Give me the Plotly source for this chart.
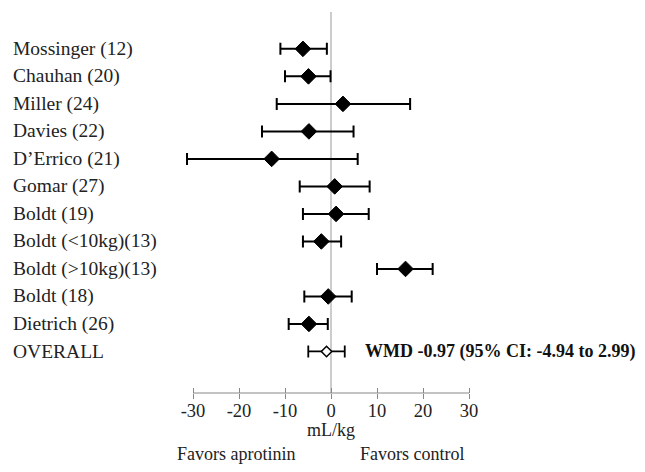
import plotly.graph_objects as go

studies = ["Mossinger (12)", "Chauhan (20)", "Miller (24)", "Davies (22)", "D’Errico (21)",
           "Gomar (27)", "Boldt (19)", "Boldt (<10kg)(13)", "Boldt (>10kg)(13)", "Boldt (18)",
           "Dietrich (26)"]
wmd = [-6.1, -4.9, 2.6, -4.8, -12.9, 0.8, 1.1, -2.1, 16.2, -0.6, -4.8]
ci_lo = [-11.0, -10.0, -11.8, -15.0, -31.3, -6.8, -6.1, -6.1, 10.0, -5.8, -9.2]
ci_hi = [-0.9, -0.1, 17.2, 4.9, 5.8, 8.4, 8.2, 2.2, 22.1, 4.5, -0.7]

overall_label = "OVERALL"
overall_wmd = -0.97
overall_lo = -4.94
overall_hi = 2.99

tick_vals = [-30, -20, -10, 0, 10, 20, 30]
tick_text = ["-30", "-20", "-10", "0", "10", "20", "30"]

FONT = "Liberation Serif, Times New Roman, serif"

rows = list(range(len(studies)))
overall_row = len(studies)

fig = go.Figure()

fig.add_trace(go.Scatter(
    x=wmd, y=rows, mode="markers",
    marker=dict(symbol="diamond", size=12, color="black", line=dict(color="black", width=1)),
    error_x=dict(type="data", symmetric=False,
                 array=[h - m for h, m in zip(ci_hi, wmd)],
                 arrayminus=[m - l for m, l in zip(wmd, ci_lo)],
                 color="black", thickness=2, width=6),
    showlegend=False, hoverinfo="skip",
))

fig.add_trace(go.Scatter(
    x=[overall_wmd], y=[overall_row], mode="markers",
    marker=dict(symbol="diamond", size=8, color="white", line=dict(color="black", width=1.5)),
    error_x=dict(type="data", symmetric=False,
                 array=[overall_hi - overall_wmd], arrayminus=[overall_wmd - overall_lo],
                 color="black", thickness=1.8, width=6),
    showlegend=False, hoverinfo="skip",
))

# invisible trace on an overlay axis that draws the upper half of the crossing ticks
fig.add_trace(go.Scatter(x=[0], y=[0], xaxis="x2", mode="markers",
                         marker=dict(opacity=0), showlegend=False, hoverinfo="skip"))

annotations = []
for i, s in enumerate(studies + [overall_label]):
    annotations.append(dict(text=s, x=-0.494, xref="paper", y=i, yref="y",
                            xanchor="left", yanchor="middle", showarrow=False,
                            font=dict(family=FONT, size=19.5, color="#222")))

annotations.append(dict(
    text="<b>WMD %.2f (95%% CI: %.2f to %.2f)</b>" % (overall_wmd, overall_lo, overall_hi),
    x=6.9, xref="x", y=overall_row, yref="y", xanchor="left", yanchor="middle",
    showarrow=False, font=dict(family=FONT, size=18, color="#111")))

annotations.append(dict(text="mL/kg", x=0, xref="x", y=-0.097, yref="paper",
                        xanchor="center", yanchor="middle", showarrow=False,
                        font=dict(family=FONT, size=18, color="#222")))
annotations.append(dict(text="Favors aprotinin", x=-20.5, xref="x", y=-0.16, yref="paper",
                        xanchor="center", yanchor="middle", showarrow=False,
                        font=dict(family=FONT, size=18, color="#222")))
annotations.append(dict(text="Favors control", x=17.7, xref="x", y=-0.16, yref="paper",
                        xanchor="center", yanchor="middle", showarrow=False,
                        font=dict(family=FONT, size=18, color="#222")))

shapes = [
    dict(type="line", xref="x", yref="paper", x0=0, x1=0, y0=0, y1=1,
         line=dict(color="#999", width=1), layer="below"),
    dict(type="line", xref="x", yref="paper", x0=tick_vals[0], x1=tick_vals[-1], y0=0, y1=0,
         line=dict(color="#888", width=1)),
]

fig.update_layout(
    width=637, height=464,
    margin=dict(l=162, r=153, t=4, b=79),
    paper_bgcolor="white", plot_bgcolor="white",
    xaxis=dict(range=[-35, 35], tickvals=tick_vals, ticktext=tick_text,
               ticks="outside", ticklen=5, tickcolor="#888", tickwidth=1,
               ticklabelstandoff=-4,
               showline=False, showgrid=False, zeroline=False,
               tickfont=dict(family=FONT, size=18.5, color="#222")),
    xaxis2=dict(range=[-35, 35], overlaying="x", anchor="y", side="bottom",
                tickvals=tick_vals, ticks="inside", ticklen=5, tickcolor="#888", tickwidth=1,
                showticklabels=False, showline=False, showgrid=False, zeroline=False),
    yaxis=dict(range=[12.51, -1.34], visible=False),
    annotations=annotations,
    shapes=shapes,
)

fig.write_html("out.html")
